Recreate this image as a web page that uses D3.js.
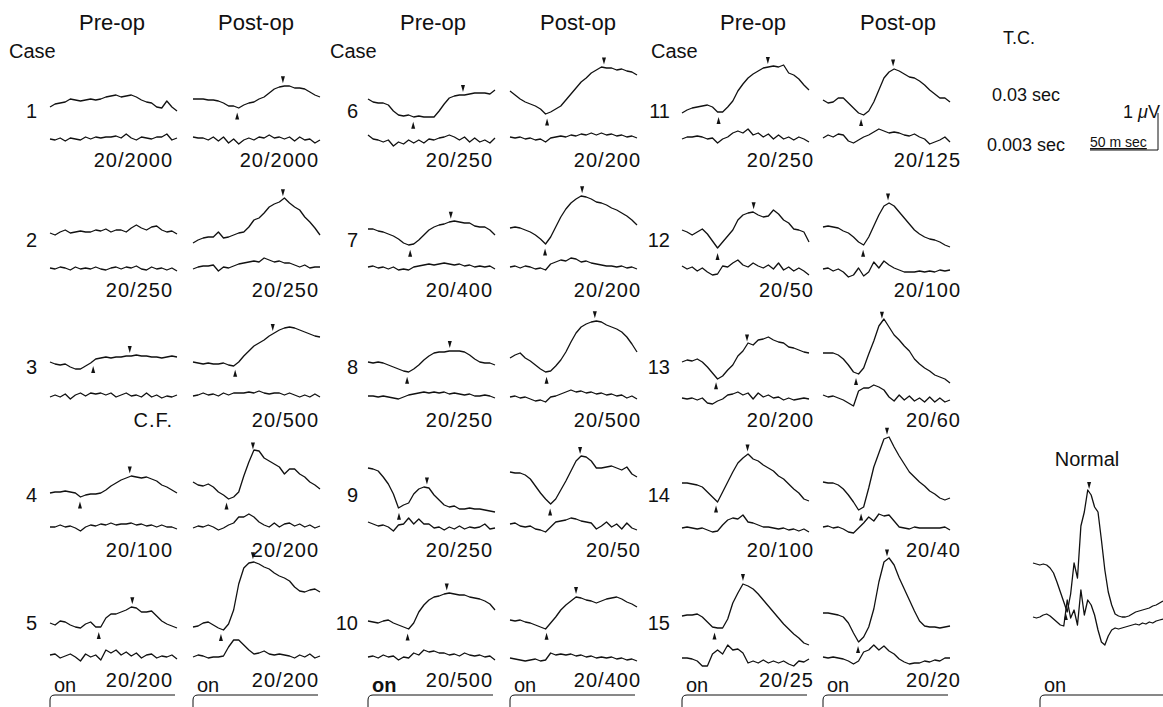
<!DOCTYPE html>
<html>
<head>
<meta charset="utf-8">
<script src="https://d3js.org/d3.v7.min.js"></script>
<style>
  body { margin: 0; background: #fff; }
  svg text { font-family: "Liberation Sans", Arial, Helvetica, sans-serif; fill: #111; }
</style>
</head>
<body>
<script>
// ---- data (amplitudes: 37 units = 1 microvolt, positive = up; evenly spaced samples over the sweep)
var cases = d3.range(1, 16);
var preAcuity = ["20/2000", "20/250", "C.F.", "20/100", "20/200", "20/250", "20/400", "20/250",
                 "20/250", "20/500", "20/250", "20/50", "20/200", "20/100", "20/25"];
var postAcuity = ["20/2000", "20/250", "20/500", "20/200", "20/200", "20/200", "20/200", "20/500",
                  "20/50", "20/400", "20/125", "20/100", "20/60", "20/40", "20/20"];

// upper trace, time constant 0.03 sec
var preUpper = [
  [3,6,7,8,11,10,9,10,11,10,11,13,14,15,13,14,15,13,10,8,7,3,2,9,3,-1],
  [6,4,7,9,6,7,8,7,7,9,8,10,7,9,9,7,11,14,11,9,12,13,9,7,8,5],
  [4,2,1,2,-1,-3,-3,0,3,7,8,9,8,9,9,10,10,11,10,10,9,9,8,9,10,9],
  [1,2,2,3,2,1,-3,-1,0,0,1,4,8,11,14,16,18,17,16,17,15,13,9,7,4,1],
  [-1,-3,1,0,-3,-5,-6,-2,0,-5,-5,4,8,8,10,12,15,14,10,10,11,6,1,-2,-4,-6],
  [11,8,7,7,5,-1,-5,-6,-5,-7,-6,-7,-7,-7,-1,6,12,14,15,15,16,17,17,17,16,20],
  [10,10,8,7,5,3,0,-4,-6,-5,-1,4,9,12,14,15,17,18,17,16,16,13,12,12,9,4],
  [4,3,4,3,1,-1,-3,-5,-6,-3,1,6,10,13,14,14,15,15,15,14,11,7,4,3,3,1],
  [26,25,23,17,10,0,-14,-11,-9,0,5,7,6,-1,-6,-11,-13,-12,-15,-15,-14,-15,-15,-16,-17,-18],
  [1,0,-1,1,2,-1,-3,-5,-7,-1,10,17,22,25,26,28,29,28,27,27,25,24,23,21,18,12],
  [-3,0,2,3,4,5,3,-2,-2,3,9,19,26,32,36,39,42,43,44,43,45,37,35,31,25,20],
  [9,7,4,7,10,5,-2,-9,-3,3,9,19,24,26,27,24,22,23,29,25,19,16,10,9,7,-3],
  [4,6,5,7,4,-1,-7,-13,-10,-4,1,10,15,23,21,26,27,29,26,24,23,19,18,16,14,13],
  [11,11,10,9,7,2,-3,-8,2,12,22,31,36,40,35,33,29,26,23,18,15,10,5,1,-5,-7],
  [6,7,7,8,5,0,-5,-6,-6,3,19,29,38,36,33,28,22,16,10,4,-2,-7,-12,-16,-21,-23]
];
var postUpper = [
  [11,11,11,10,10,9,7,4,4,2,5,7,8,11,13,17,21,23,24,24,22,22,21,18,15,13],
  [-4,-1,1,2,2,7,1,2,4,6,7,12,19,21,26,32,35,37,41,36,32,29,22,17,11,4],
  [4,3,2,3,2,2,3,1,0,4,10,15,20,23,26,30,33,36,38,39,38,36,34,32,30,29],
  [12,9,8,10,7,2,-1,-5,-3,2,18,32,44,43,36,33,30,27,20,25,25,20,17,12,9,5],
  [-5,-4,-1,0,-3,-6,-8,-2,12,38,54,59,60,58,55,53,49,46,44,41,35,31,30,32,33,30],
  [19,15,11,8,6,4,1,-4,-2,1,4,10,16,22,28,32,37,40,43,42,42,40,41,39,38,35],
  [11,12,11,9,7,4,0,-5,2,12,22,30,36,40,43,42,40,37,36,34,31,29,26,23,19,14],
  [8,11,13,8,5,1,-3,-6,-5,0,6,14,24,33,39,42,44,45,44,41,39,37,34,29,22,14],
  [22,21,21,19,15,8,1,-5,-10,-5,4,13,23,33,38,37,33,26,26,27,28,26,24,27,20,17],
  [2,1,2,0,-1,-3,-5,-7,-1,5,12,17,21,25,24,22,21,19,21,23,24,25,23,20,18,15],
  [10,7,8,12,12,7,2,-3,-5,-1,8,20,32,38,41,39,36,33,32,29,25,20,16,12,12,8],
  [12,13,12,11,8,6,2,-3,-6,2,13,24,33,36,33,27,21,15,9,5,2,0,-1,-3,-6,-8],
  [13,13,13,11,7,1,-6,-8,-2,12,25,40,47,39,31,26,20,15,7,2,-2,-5,-9,-11,-13,-17],
  [12,11,11,9,5,-1,-8,-16,-13,6,27,41,55,57,47,38,30,22,17,12,8,3,0,-4,-6,-4],
  [9,9,8,7,5,-1,-11,-20,-15,-5,13,40,60,64,57,44,33,22,11,1,-4,-5,-5,-6,-5,-4]
];

// lower trace, time constant 0.003 sec
var preLower = [
  [0,-1,1,-2,1,0,-1,2,0,2,1,2,2,3,1,5,1,-1,2,1,0,2,2,5,-1,1],
  [0,-1,1,0,-2,1,-1,0,-1,1,-1,-2,0,1,-1,1,0,2,-1,-2,1,-1,0,-2,0,-3],
  [-1,1,-1,2,-3,1,3,0,3,2,3,1,3,-1,1,3,0,1,-1,3,-1,1,-2,0,-1,1],
  [0,0,2,0,1,-1,-4,0,2,1,3,2,4,2,3,3,4,2,3,1,2,0,2,0,0,-2],
  [2,3,-1,1,3,0,-4,3,0,2,-3,7,4,7,2,5,1,4,-1,2,3,-1,1,0,2,-2],
  [4,0,-1,-3,-1,-7,-3,-5,-1,-4,-1,-4,0,-1,1,2,4,2,-1,2,-3,1,-3,-1,-4,1],
  [1,2,0,1,-1,1,-2,-1,-2,1,2,3,4,3,4,5,4,3,4,2,3,1,2,1,2,-1],
  [0,0,-1,0,-1,-2,-3,-1,1,2,3,4,3,4,3,4,2,3,2,1,2,0,0,1,0,-2],
  [5,3,1,2,0,-4,2,3,9,3,8,3,3,-1,0,-3,0,-2,1,-2,0,-1,0,3,-2,-1],
  [0,1,-1,2,0,1,-3,0,-1,4,2,7,5,6,4,4,2,3,1,4,2,1,2,0,1,-3],
  [0,2,2,3,2,0,1,-4,0,2,6,8,6,10,4,6,2,5,0,4,0,2,-1,2,0,-3],
  [2,-1,1,-3,0,-4,-7,-6,2,1,5,8,3,1,5,2,0,3,-1,5,-2,1,-3,0,-3,-7],
  [-2,-3,-2,-4,-2,-7,-8,-5,-3,1,2,4,1,3,-3,3,-1,1,-2,-1,-4,-2,-4,-3,-2,-3],
  [-1,0,-1,-2,-1,-3,-5,-4,2,7,9,8,12,5,4,2,0,0,-1,-2,-1,-3,-2,-4,-2,-5],
  [-1,-1,-2,-4,-9,-9,3,7,3,12,7,8,4,-6,-4,-6,-3,-6,-4,-6,-4,-7,-9,-4,-5,-2]
];
var postLower = [
  [2,1,1,-1,2,-2,2,-4,0,-5,-1,1,-1,2,1,4,1,2,0,2,-2,2,-1,0,-4,-1],
  [-1,1,2,2,3,-3,1,0,2,4,5,6,7,6,10,8,6,7,5,5,3,1,3,0,1,1],
  [0,1,3,1,2,0,3,1,3,3,3,4,3,5,3,2,3,3,1,3,1,-1,1,-1,2,-1],
  [-1,1,0,2,0,-3,-1,2,4,10,10,13,10,5,2,0,4,0,3,4,1,3,0,2,-1,1],
  [0,2,1,-1,0,0,1,10,17,17,12,7,3,4,6,3,2,3,2,1,-1,2,0,3,-1,1],
  [2,1,2,0,1,-1,0,-3,1,2,3,2,4,3,5,4,6,4,6,4,5,3,4,2,3,1],
  [1,2,0,2,1,-1,0,-2,4,6,8,7,10,9,6,7,5,4,3,2,2,1,2,0,1,-1],
  [-1,0,-2,-1,-3,-5,-4,-6,-1,0,2,4,6,4,5,3,4,2,3,1,2,0,1,-2,0,-3],
  [3,4,1,0,1,-2,-3,-5,0,5,6,7,9,8,6,5,4,-2,1,5,0,3,-2,4,-1,-3],
  [-1,-2,-3,-4,-3,-2,-4,-3,4,2,3,2,3,1,2,0,1,-1,0,-1,0,-2,-1,-3,-2,-4],
  [1,4,2,5,4,-2,-4,-1,2,4,7,10,8,6,7,6,4,3,5,2,0,-5,-3,-1,2,-3],
  [-1,0,-3,-1,-4,-9,-7,0,-8,-4,6,0,7,3,0,-2,-4,-4,-4,-3,-4,-3,-4,-2,-3,-2],
  [1,-1,0,-2,-4,-7,-10,5,8,8,11,9,6,-1,-5,1,-4,0,-5,-2,-6,-1,-6,-2,-6,-4],
  [0,1,-1,0,-2,-5,-6,-1,4,10,6,13,11,12,6,0,-1,-2,0,-1,-1,-1,-1,-1,0,-3],
  [0,-1,0,-1,-2,-4,-7,-4,5,7,12,7,11,6,3,-2,-5,-7,-6,-6,-4,-5,-3,-4,-1,-1]
];

// arrow marks [trough, peak] in sample units (null = none)
var preMarks = [null, null, [8.5,15.7], [5.9,15.7], [9.6,16.2], [8.9,18.7], [8.3,16.3], [7.7,16.1],
                [6.1,11.6], [7.8,15.5], [7.2,16.9], [7.0,14.1], [6.7,12.8], [6.7,12.9], [6.4,12.0]];
var postMarks = [[8.7,17.7], [null,17.7], [8.3,15.7], [6.6,11.8], [5.5,11.8], [7.3,18.5], [6.9,14.2], [7.2,16.7],
                 [7.9,13.8], [7.2,13.0], [7.5,13.8], [7.9,12.8], [6.5,11.6], [7.5,12.6], [6.9,12.6]];

// normal subject, finer sampling (39 samples)
var normalUpper = [37,36,35,36,35,32,27,18,8,-2,-12,6,37,22,74,88,110,105,93,88,60,30,8,-5,
                   -14,-16,-17,-17,-16,-14,-12,-11,-10,-9,-8,-6,-5,-3,-1];
var normalLower = [11,10,11,13,14,12,9,6,3,2,28,10,18,3,38,13,28,23,13,-2,-14,-17,-8,-2,
                   0,-1,0,1,2,3,4,3,5,4,6,5,7,8,9];
var normalMarks = [9.6, 16.4];

// ---- layout
var W = 1163, H = 707, UV = 37;
var colX = [50, 193, 368, 510, 682, 823], panelW = 127;
var rowY = [110, 239, 366, 494, 622];
var lowerGap = [29, 29, 30, 33, 35];
var labelDy = [57, 58, 61, 63, 65];
var labelRight = [173, 319, 493, 641, 814, 961];
var numRight = [37, 358, 670];
var headerX = [112, 256, 433, 578, 753, 898];
var caseX = [9, 330, 651];

var svg = d3.select("body").append("svg")
    .attr("width", W)
    .attr("height", H);

function sweep(x0, w, n) {
    return d3.scaleLinear().domain([0, n - 1]).range([x0, x0 + w]);
}

function trace(vals, xs, base) {
    var ys = d3.scaleLinear().domain([0, UV]).range([base, base - UV]);
    svg.append("path")
        .datum(vals)
        .attr("d", d3.line().x((d, i) => xs(i)).y(d => ys(d)))
        .attr("fill", "none")
        .attr("stroke", "#111")
        .attr("stroke-width", 1.3)
        .attr("stroke-linejoin", "round");
    return ys;
}

function tri(px, tip, dir) {
    svg.append("path")
        .attr("d", `M${px},${tip}L${px - 2},${tip + 7 * dir}L${px + 2},${tip + 7 * dir}Z`)
        .attr("fill", "#111");
}

function marks(m, vals, xs, ys) {
    if (!m) return;
    var at = t => {
        var i = Math.floor(t), f = t - i;
        return vals[i] * (1 - f) + vals[Math.min(i + 1, vals.length - 1)] * f;
    };
    if (m[0] != null) tri(xs(m[0]), ys(at(m[0])) + 5, 1);
    if (m[1] != null) tri(xs(m[1]), ys(at(m[1])) - 3, -1);
}

function onset(x0, x1, bold) {
    svg.append("path")
        .attr("d", `M${x0},707V700Q${x0},695 ${x0 + 5},695H${x1}`)
        .attr("fill", "none")
        .attr("stroke", "#111")
        .attr("stroke-width", 1);
    svg.append("text")
        .attr("x", x0 + 4)
        .attr("y", 692)
        .attr("font-size", 20)
        .attr("font-weight", bold ? "bold" : null)
        .text("on");
}

// headers
["Pre-op", "Post-op", "Pre-op", "Post-op", "Pre-op", "Post-op"].forEach(function(t, i) {
    svg.append("text").attr("x", headerX[i]).attr("y", 30)
        .attr("text-anchor", "middle").attr("font-size", 22).text(t);
});
caseX.forEach(function(cx) {
    svg.append("text").attr("x", cx).attr("y", 58).attr("font-size", 20).text("Case");
});

cases.forEach(function(c, k) {
    var g = Math.floor(k / 5), r = k % 5;
    svg.append("text")
        .attr("x", numRight[g]).attr("y", rowY[r] + 8)
        .attr("text-anchor", "end").attr("font-size", 20)
        .text(c);

    [[2 * g, preUpper[k], preLower[k], preMarks[k], preAcuity[k]],
     [2 * g + 1, postUpper[k], postLower[k], postMarks[k], postAcuity[k]]].forEach(function(p) {
        var xs = sweep(colX[p[0]], panelW, p[1].length);
        var ys = trace(p[1], xs, rowY[r]);
        trace(p[2], xs, rowY[r] + lowerGap[r]);
        marks(p[3], p[1], xs, ys);
        svg.append("text")
            .attr("x", labelRight[p[0]]).attr("y", rowY[r] + labelDy[r])
            .attr("text-anchor", "end").attr("font-size", 20)
            .attr("letter-spacing", 1)
            .text(p[4]);
    });
});

colX.forEach(function(x0, i) { onset(x0, x0 + 125, i === 2); });

// normal
var nx = sweep(1033, 130, normalUpper.length);
var nys = trace(normalUpper, nx, 600);
trace(normalLower, nx, 628);
marks(normalMarks, normalUpper, nx, nys);
svg.append("text").attr("x", 1087).attr("y", 466).attr("text-anchor", "middle")
    .attr("font-size", 20).text("Normal");
onset(1040, 1163, false);

// time constants and calibration
svg.append("text").attr("x", 1003).attr("y", 44).attr("font-size", 18).text("T.C.");
svg.append("text").attr("x", 992).attr("y", 101).attr("font-size", 18).text("0.03 sec");
svg.append("text").attr("x", 987).attr("y", 151).attr("font-size", 18).text("0.003 sec");
var cal = svg.append("text").attr("x", 1160).attr("y", 118)
    .attr("text-anchor", "end").attr("font-size", 18);
cal.append("tspan").text("1 ");
cal.append("tspan").attr("font-style", "italic").text("\u03bc");
cal.append("tspan").text("V");
svg.append("text").attr("x", 1090).attr("y", 147).attr("font-size", 14)
    .attr("text-decoration", "underline").text("50 m sec");
svg.append("path")
    .attr("d", "M1090,150H1158V113")
    .attr("fill", "none").attr("stroke", "#111").attr("stroke-width", 1);
</script>
</body>
</html>
